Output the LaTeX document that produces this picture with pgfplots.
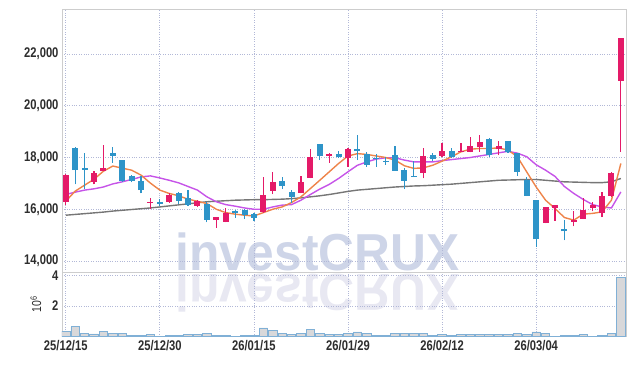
\documentclass[border=0pt]{standalone}
\usepackage{graphicx}
\usepackage{pgfplots}
\pgfplotsset{compat=1.18}
\usepackage{pgfplotstable}
\usepackage{fontspec}
\setmainfont{Liberation Sans}[FakeStretch=0.8]
\newfontfamily\wmfont{Liberation Sans}[FakeStretch=0.955]
\newcommand\tickf{\fontsize{14}{14}\selectfont\bfseries}

\definecolor{cup}{RGB}{228,26,104}
\definecolor{cdn}{RGB}{46,148,200}
\definecolor{maa}{RGB}{238,132,74}
\definecolor{mab}{RGB}{198,84,232}
\definecolor{mac}{RGB}{118,118,118}
\definecolor{gridc}{RGB}{178,184,215}
\definecolor{framec}{RGB}{205,205,205}
\definecolor{volfill}{RGB}{216,216,218}
\definecolor{voledge}{RGB}{128,176,214}
\definecolor{wm}{RGB}{206,213,232}
\definecolor{wmr}{RGB}{232,232,242}
\definecolor{txt}{RGB}{45,45,45}

\pgfplotstableread{
x o h l c
0 16280 17350 16160 17320
3 17060 17470 16960 17420
4 17480 18480 17470 17590
9 16250 16440 16000 16290
11 16280 16610 16260 16570
14 16130 16350 16070 16310
16 15600 15710 15280 15700
17 15510 16050 15490 15840
21 15900 17250 15870 16540
22 16710 17450 16580 17040
25 16630 17290 16610 17040
26 17210 18320 17190 18030
28 18060 18160 17790 18120
30 18000 18350 17640 18320
38 17410 18350 17190 18050
40 18060 18580 18030 18250
42 18220 18580 18200 18260
43 18220 18780 18200 18450
44 18410 18870 18220 18610
46 18310 18630 18090 18440
51 15470 16070 15450 16070
52 16050 16160 15550 16150
54 15510 15940 15340 15600
55 15630 16420 15620 15990
56 16030 16270 15920 16150
57 15840 16670 15700 16530
58 16530 17450 16480 17420
59 20970 22610 18220 22610
}\upc

\pgfplotstableread{
x o h l c
1 18350 18410 16960 17510
2 17580 18180 16800 17520
5 18180 18410 17790 18060
6 17900 17910 17060 17090
7 17280 17320 17040 17090
8 17090 17290 16610 16740
10 16290 16390 16130 16220
12 16610 16670 16200 16320
13 16420 16740 16130 16180
15 16220 16280 15490 15580
18 15920 15960 15670 15870
19 15960 16000 15620 15770
20 15800 15840 15540 15670
23 17090 17250 16780 16890
24 16670 16740 16250 16480
27 18520 18530 17900 18060
29 18120 18250 17990 18030
31 18320 18860 17900 18250
32 18120 18220 17640 17730
33 17980 18120 17640 17940
34 17870 18030 17730 17830
35 18090 18450 17480 17480
36 17510 17580 16780 17100
37 17290 17860 17240 17240
39 18090 18160 17860 17930
41 18250 18350 18000 18030
45 18710 18740 18030 18090
47 18630 18640 18180 18200
48 18160 18170 17290 17450
49 17120 17250 16510 16520
50 16350 16360 14550 14840
53 15240 15600 14800 15140
}\dnc

\pgfplotstableread{
x maa mab mac vol
0 16310 16570 15770 0.35
1 16700 16660 15800 0.64
2 16930 16740 15830 0.24
3 17160 16790 15860 0.18
4 17470 16860 15890 0.35
5 17670 16980 15930 0.24
6 17590 17060 15960 0.24
7 17510 17150 15990 0.07
8 17320 17250 16020 0.07
9 17010 17290 16050 0.13
10 16740 17210 16090 0.03
11 16610 17120 16130 0.07
12 16520 17020 16170 0.07
13 16390 16880 16210 0.13
14 16310 16740 16250 0.13
15 16220 16480 16290 0.20
16 16000 16290 16310 0.07
17 15870 16180 16330 0.07
18 15810 16120 16350 0.03
19 15770 16050 16360 0.07
20 15740 16000 16370 0.07
21 15870 16000 16370 0.57
22 16000 16090 16380 0.39
23 16090 16160 16390 0.20
24 16260 16180 16410 0.13
25 16480 16350 16440 0.20
26 16800 16570 16480 0.50
27 17120 16780 16520 0.24
28 17445 16960 16570 0.13
29 17770 17190 16630 0.13
30 18060 17450 16690 0.20
31 18150 17700 16740 0.31
32 18120 17830 16770 0.20
33 18060 17940 16800 0.07
34 18000 17990 16830 0.07
35 17900 17990 16860 0.20
36 17680 17900 16880 0.20
37 17580 17830 16900 0.20
38 17600 17830 16910 0.24
39 17700 17830 16930 0.07
40 17860 17880 16950 0.13
41 18030 17920 16970 0.07
42 18220 17960 17000 0.13
43 18320 18000 17030 0.13
44 18350 18060 17060 0.13
45 18350 18120 17090 0.13
46 18370 18180 17120 0.13
47 18290 18240 17130 0.13
48 18030 18170 17140 0.20
49 17440 18030 17150 0.13
50 16860 17720 17150 0.31
51 16350 17510 17120 0.20
52 16030 17270 17090 0.03
53 15680 16880 17060 0.07
54 15580 16610 17050 0.07
55 15810 16380 17040 0.13
56 15840 16180 17030 0.03
57 15900 16090 17030 0.07
58 16350 16050 17060 0.20
59 17770 16670 17190 3.85
}\mas

\pgfplotsset{
  common/.style={
    scale only axis, width=564.5pt,
    xmin=-0.4, xmax=59.6,
    xtick={0,10,20,30,40,50},
    scaled y ticks=false,
    grid=major, grid style={gridc, dotted, line width=0.7pt},
    axis line style={framec, line width=0.8pt},
    major tick length=0pt,
    tick label style={font=\tickf, text=txt},
  },
  wick/.style={draw=none, mark=none, forget plot,
    error bars/.cd, y dir=plus, y explicit, error mark=none,
    error bar style={draw=#1, line width=1.2pt}},
  body/.style={draw=none, mark=none, forget plot,
    error bars/.cd, y dir=plus, y explicit, error mark=none,
    error bar style={draw=#1, line width=6pt, line cap=butt}},
}

\begin{document}
\begin{tikzpicture}
\node[anchor=base west, inner sep=0, text=wm, font=\wmfont\bfseries\fontsize{52}{52}\selectfont] at (175pt,95.3pt) {investCRUX};
\node[anchor=base west, inner sep=0, text=wmr, font=\wmfont\bfseries\fontsize{52}{52}\selectfont] at (175pt,91pt) {\scalebox{1}[-1]{investCRUX}};

\begin{axis}[common,
  at={(62pt,93.7pt)}, anchor=south west, height=263pt,
  ymin=13563, ymax=23730,
  xticklabels={},
  ytick={14000,16000,18000,20000,22000},
  yticklabel={\pgfmathprintnumber[fixed,1000 sep={,},assume math mode=true]{\tick}},
]
\addplot[mac, line width=1.4pt, forget plot] table[x=x,y=mac]{\mas};
\addplot[mab, line width=1.4pt, forget plot] table[x=x,y=mab]{\mas};
\addplot[maa, line width=1.4pt, forget plot] table[x=x,y=maa]{\mas};
\addplot[wick=cup] table[x=x, y=l, y error expr=\thisrow{h}-\thisrow{l}]{\upc};
\addplot[body=cup] table[x=x, y=o, y error expr=\thisrow{c}-\thisrow{o}]{\upc};
\addplot[wick=cdn] table[x=x, y=l, y error expr=\thisrow{h}-\thisrow{l}]{\dnc};
\addplot[body=cdn] table[x=x, y=c, y error expr=\thisrow{o}-\thisrow{c}]{\dnc};
\end{axis}

\begin{axis}[common,
  at={(62pt,29.3pt)}, anchor=south west, height=64.4pt,
  ymin=0, ymax=4.2,
  ytick={2,4},
  xticklabels={25/12/15,25/12/30,26/01/15,26/01/29,26/02/12,26/03/04},
  yticklabel={\pgfmathprintnumber[assume math mode=true]{\tick}},
  ylabel={10\textsuperscript{6}},
  ylabel style={font=\fontsize{13}{13}\selectfont, text=txt, yshift=4pt},
]
\addplot[ybar, bar width=8.5pt, fill=volfill, draw=voledge, line width=0.8pt] table[x=x,y=vol]{\mas};
\end{axis}

\pgfresetboundingbox
\path[use as bounding box] (0,0) rectangle (635pt,366pt);
\end{tikzpicture}
\end{document}
